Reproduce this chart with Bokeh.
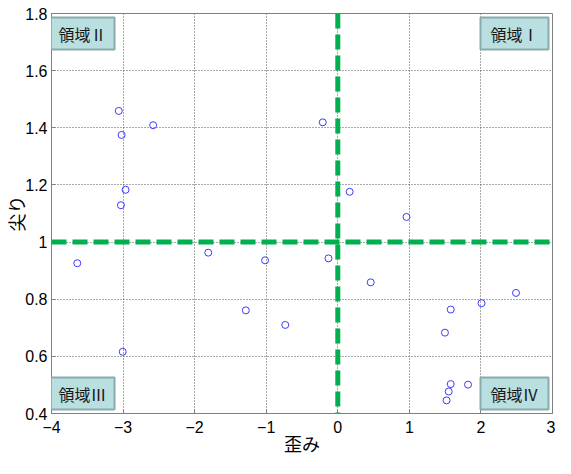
from bokeh.plotting import figure
from bokeh.models import Range1d, FixedTicker, Span, Label
from bokeh.embed import file_html
from bokeh.resources import INLINE

# ---- data ----
skewness = [-3.06, -3.02, -2.58, -2.965, -3.03, -3.005, -3.64, -1.81, -1.016,
            -1.285, -0.734, -0.21, -0.13, 0.166, 0.96, 0.46, 1.578, 1.497,
            2.008, 2.49, 1.578, 1.82, 1.55, 1.52]
kurtosis = [1.459, 1.375, 1.409, 1.183, 1.129, 0.616, 0.926, 0.963, 0.936,
            0.761, 0.710, 1.419, 0.943, 1.176, 1.088, 0.859, 0.764, 0.683,
            0.786, 0.822, 0.503, 0.501, 0.477, 0.446]

x_ticks = [-4, -3, -2, -1, 0, 1, 2, 3]
x_tick_labels = ["−4", "−3", "−2", "−1", "0", "1", "2", "3"]
y_ticks = [0.4, 0.6, 0.8, 1.0, 1.2, 1.4, 1.6, 1.8]
y_tick_labels = ["0.4", "0.6", "0.8", "1", "1.2", "1.4", "1.6", "1.8"]

x_label = "歪み"
y_label = "尖り"
region_labels = ["領域Ⅰ", "領域Ⅱ", "領域Ⅲ", "領域Ⅳ"]

skew_split = 0
kurt_split = 1
x_lim = (-4, 3)
y_lim = (0.4, 1.8)

# horizontal padding per region box so all boxes have the same width
box_hpad = [10, 8, 8, 10]

# ---- figure ----
p = figure(width=555, height=458, output_backend="svg", toolbar_location=None,
           x_range=Range1d(*x_lim), y_range=Range1d(*y_lim),
           min_border_left=46, min_border_right=3, min_border_top=13,
           min_border_bottom=45)
p.background_fill_color = "white"
p.border_fill_color = "white"
p.outline_line_color = "#7f7f7f"
p.outline_line_width = 1

for ax in (p.xaxis[0], p.yaxis[0]):
    ax.axis_line_color = "#7f7f7f"
    ax.major_tick_line_color = "#7f7f7f"
    ax.major_tick_in = 4
    ax.major_tick_out = 0
    ax.minor_tick_line_color = None
    ax.major_label_text_font = "Liberation Sans"
    ax.major_label_text_font_size = "16px"
    ax.major_label_text_color = "black"
    ax.axis_label_text_font = "Noto Sans CJK JP"
    ax.axis_label_text_font_size = "18px"
    ax.axis_label_text_font_style = "normal"
    ax.axis_label_text_color = "black"

p.xaxis.ticker = FixedTicker(ticks=x_ticks)
p.yaxis.ticker = FixedTicker(ticks=y_ticks)
p.xaxis.major_label_overrides = dict(zip(x_ticks, x_tick_labels))
p.yaxis.major_label_overrides = dict(zip(y_ticks, y_tick_labels))
p.xaxis.major_label_standoff = 7
p.yaxis.major_label_standoff = 4
p.xaxis.axis_label = x_label
p.yaxis.axis_label = y_label
p.xaxis.axis_label_standoff = -6
p.yaxis.axis_label_standoff = -7

p.grid.grid_line_color = "#555555"
p.grid.grid_line_dash = "1 2"
p.grid.grid_line_width = 1

# threshold lines
p.add_layout(Span(location=skew_split, dimension="height", line_color="#00b050",
                  line_width=5, line_dash="15 6"))
p.add_layout(Span(location=kurt_split, dimension="width", line_color="#00b050",
                  line_width=5, line_dash="15 6"))

p.scatter(skewness, kurtosis, marker="circle", size=7, fill_color=None,
          line_color="#3b3bff", line_width=1)


def box_style(hpad):
    return dict(text_font="Noto Sans CJK JP", text_font_size="16px",
                text_color="#1a1a1a", background_fill_color="#b9dfe1",
                border_line_color="#8aabad", border_line_width=2,
                padding=dict(left=hpad, right=hpad, top=4, bottom=4))


p.add_layout(Label(x=x_lim[1], y=y_lim[1], x_offset=-4, y_offset=-4,
                   text=region_labels[0], text_align="right",
                   text_baseline="top", **box_style(box_hpad[0])))
p.add_layout(Label(x=x_lim[0], y=y_lim[1], x_offset=-1, y_offset=-4,
                   text=region_labels[1], text_align="left",
                   text_baseline="top", **box_style(box_hpad[1])))
p.add_layout(Label(x=x_lim[0], y=y_lim[0], x_offset=-1, y_offset=4,
                   text=region_labels[2], text_align="left",
                   text_baseline="bottom", **box_style(box_hpad[2])))
p.add_layout(Label(x=x_lim[1], y=y_lim[0], x_offset=-4, y_offset=4,
                   text=region_labels[3], text_align="right",
                   text_baseline="bottom", **box_style(box_hpad[3])))

open("out.html", "w").write(file_html(p, INLINE))
